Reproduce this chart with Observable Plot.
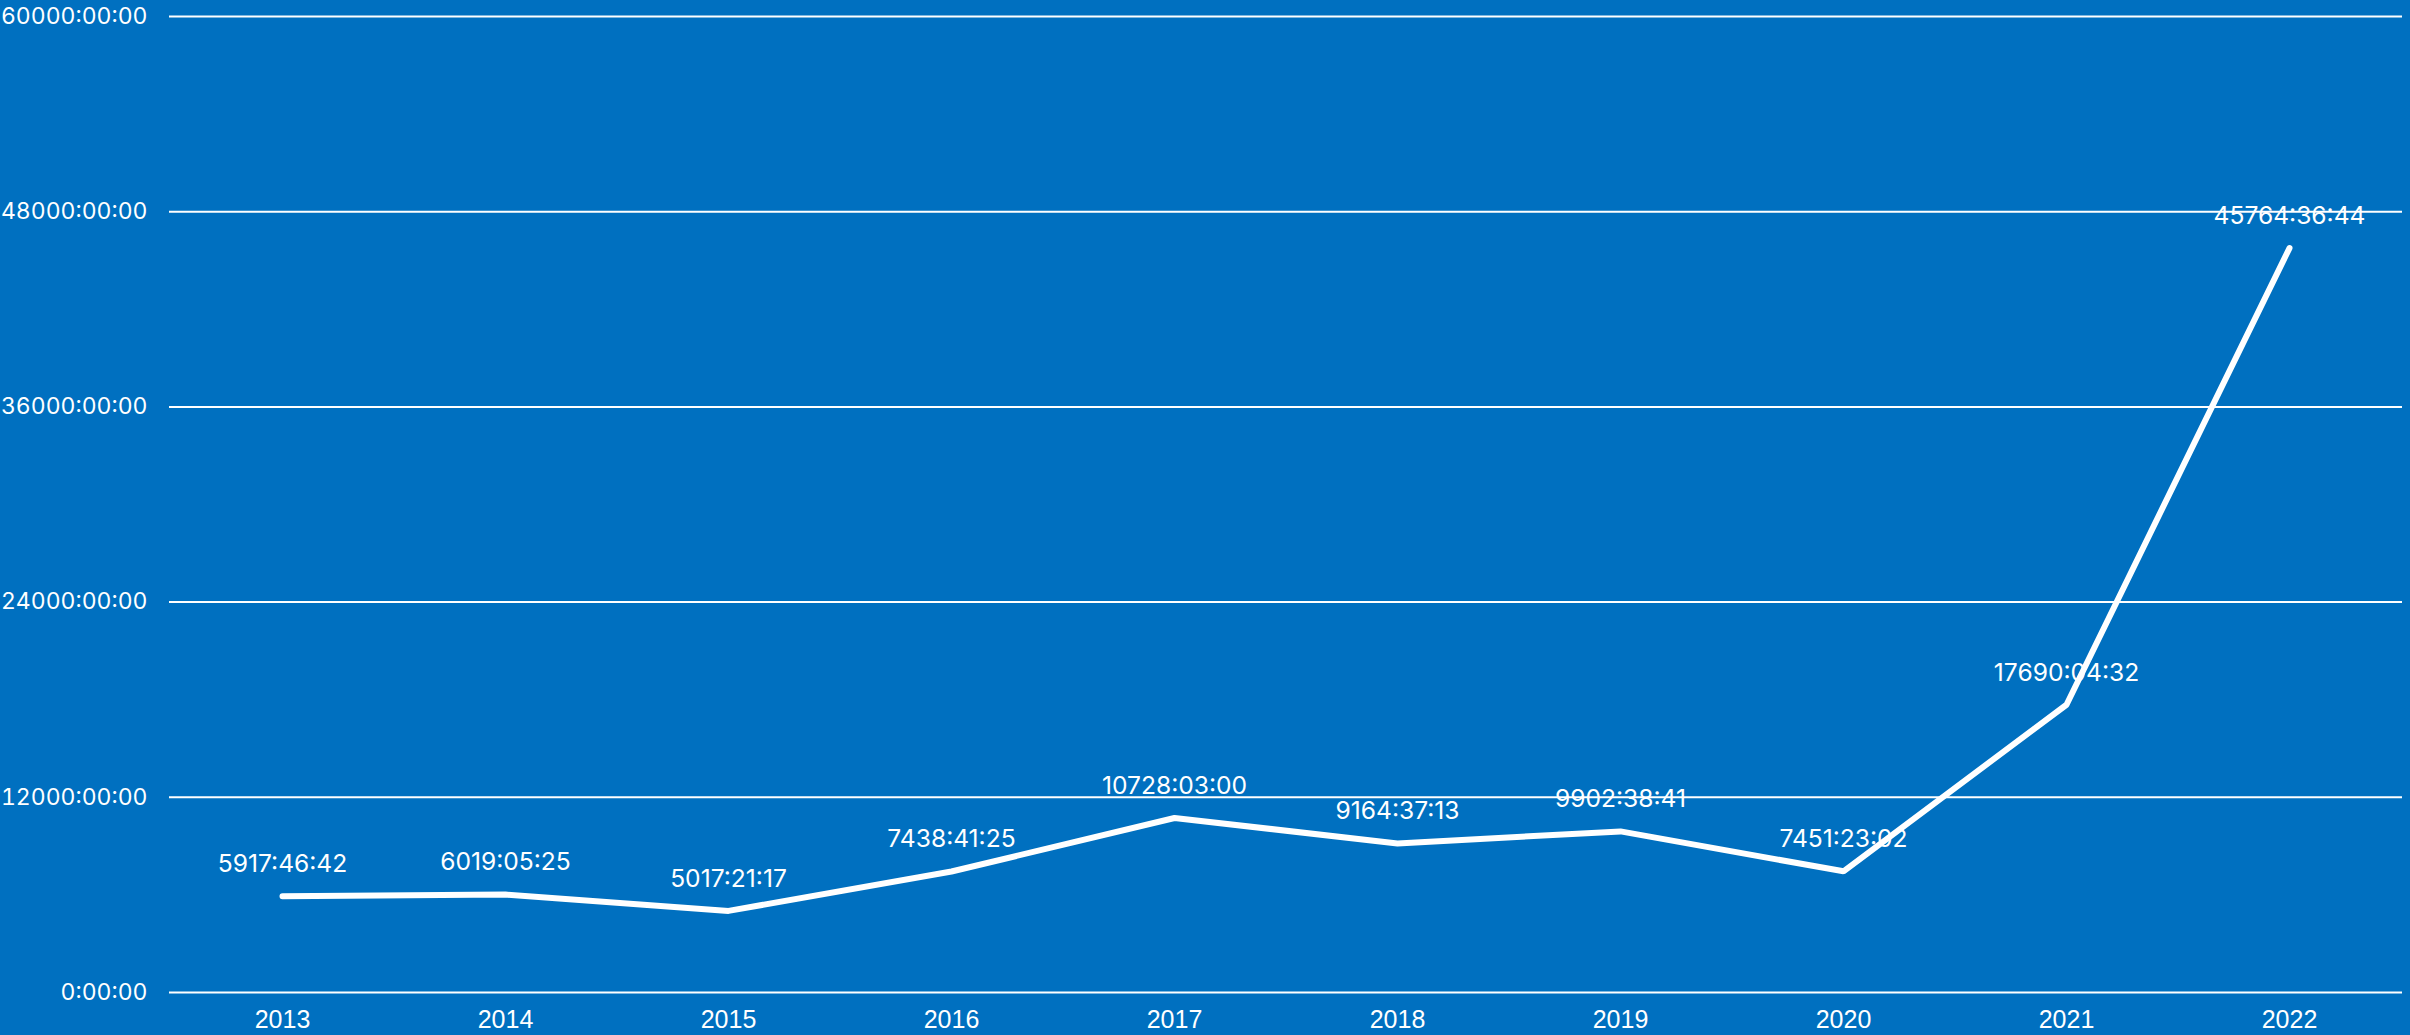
<!DOCTYPE html>
<html>
<head>
<meta charset="utf-8">
<script src="https://cdn.jsdelivr.net/npm/d3@7"></script>
<script src="https://cdn.jsdelivr.net/npm/@observablehq/plot@0.6"></script>
<style>
  html, body { margin: 0; padding: 0; background: #0070C0; }
  #chart { width: 2410px; height: 1035px; overflow: hidden; }
</style>
</head>
<body>
<div id="chart"></div>
<script>
const years = ["2013", "2014", "2015", "2016", "2017", "2018", "2019", "2020", "2021", "2022"];
const durations = ["5917:46:42", "6019:05:25", "5017:21:17", "7438:41:25", "10728:03:00",
                   "9164:37:13", "9902:38:41", "7451:23:02", "17690:04:32", "45764:36:44"];
const yTicks = [0, 12000, 24000, 36000, 48000, 60000];

function toHours(s) {
  const [h, m, sec] = s.split(":").map(Number);
  return h + m / 60 + sec / 3600;
}
function fmtHours(v) {
  const total = Math.round(v * 3600);
  const h = Math.floor(total / 3600);
  const m = Math.floor((total % 3600) / 60);
  const s = total % 60;
  return `${h}:${String(m).padStart(2, "0")}:${String(s).padStart(2, "0")}`;
}

const data = years.map((y, i) => ({year: y, hours: toHours(durations[i]), label: durations[i]}));

const chart = Plot.plot({
  width: 2410,
  height: 1035,
  marginLeft: 169,
  marginRight: 8,
  marginTop: 16,
  marginBottom: 43,
  style: {background: "transparent", color: "white", overflow: "visible"},
  x: {type: "point", domain: years, padding: 0.5, label: null},
  y: {domain: [0, 60000], label: null},
  marks: [
    Plot.ruleY(yTicks, {stroke: "white", strokeWidth: 2, strokeOpacity: 1}),
    Plot.axisY(yTicks, {tickSize: 0, tickPadding: 22, tickFormat: fmtHours,
      fontSize: 23, fontFamily: "Inter", fill: "white", label: null}),
    Plot.axisX({tickSize: 0, tickPadding: 18, fontSize: 25, fontFamily: "Liberation Sans", fill: "white", label: null}),
    Plot.text(data, {x: "year", y: "hours", text: "label", dy: -32, fill: "white",
      fontSize: 24.6, fontFamily: "Inter"}),
    Plot.line(data, {x: "year", y: "hours", stroke: "white", strokeWidth: 6,
      strokeLinecap: "round", strokeLinejoin: "miter"})
  ]
});
document.getElementById("chart").appendChild(chart);
</script>
</body>
</html>
